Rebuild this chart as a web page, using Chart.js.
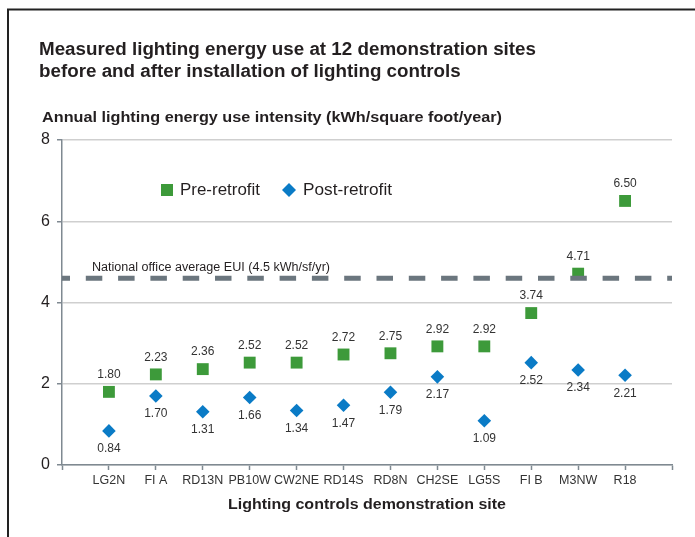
<!DOCTYPE html>
<html>
<head>
<meta charset="utf-8">
<script src="https://cdn.jsdelivr.net/npm/chart.js@4.4.1/dist/chart.umd.min.js"></script>
<style>
  html, body { margin: 0; padding: 0; background: #ffffff; overflow: hidden; }
  #wrap { width: 695px; height: 537px; }
</style>
</head>
<body>
<div id="wrap"><canvas id="chart" width="695" height="537"></canvas></div>
<script>
// sites and measured values (kWh/sf/yr)
const sites = ["LG2N", "FI A", "RD13N", "PB10W", "CW2NE", "RD14S", "RD8N", "CH2SE", "LG5S", "FI B", "M3NW", "R18"];
const preRetrofit = [1.80, 2.23, 2.36, 2.52, 2.52, 2.72, 2.75, 2.92, 2.92, 3.74, 4.71, 6.50];
const postRetrofit = [0.84, 1.70, 1.31, 1.66, 1.34, 1.47, 1.79, 2.17, 1.09, 2.52, 2.34, 2.21];
const yTicks = [0, 2, 4, 6, 8];
const nationalAverage = 4.6; // where the dashed reference line sits in the original
const nationalLabel = "National office average EUI (4.5 kWh/sf/yr)";

const GREEN = "#3d9a3a";
const BLUE = "#0a7bc6";
const TEXT = "#231f20";
const AXIS = "#7f8991";
const FONT = "'Liberation Sans', Arial, sans-serif";

function toPoints(values) {
  return values.map((v, i) => ({ x: i + 1, y: v }));
}

// stretch/squeeze a line of text so it spans the given width
function fitText(ctx, text, x, y, width) {
  const s = width / ctx.measureText(text).width;
  ctx.save();
  ctx.translate(x, y);
  ctx.scale(s, 1);
  ctx.fillText(text, 0, 0);
  ctx.restore();
}

// draws titles, frame, legend and value labels
const decorations = {
  id: "decorations",
  afterDraw(chart) {
    const ctx = chart.ctx;
    const area = chart.chartArea;
    ctx.save();

    // frame (left + top rule)
    ctx.strokeStyle = "#222222";
    ctx.lineWidth = 2;
    ctx.beginPath();
    ctx.moveTo(8, 537);
    ctx.lineTo(8, 9.5);
    ctx.lineTo(695, 9.5);
    ctx.stroke();

    ctx.fillStyle = TEXT;
    ctx.textAlign = "left";
    ctx.textBaseline = "alphabetic";

    // main title, squeezed to look condensed
    ctx.font = "bold 17.5px " + FONT;
    const line1 = "Measured lighting energy use at 12 demonstration sites";
    const line2 = "before and after installation of lighting controls";
    const sx = 497 / ctx.measureText(line1).width;
    ctx.save();
    ctx.translate(39, 0);
    ctx.scale(sx, 1);
    ctx.fillText(line1, 0, 55);
    ctx.fillText(line2, 0, 77);
    ctx.restore();

    // y-axis title, horizontal above the axis
    ctx.font = "bold 14.5px " + FONT;
    fitText(ctx, "Annual lighting energy use intensity (kWh/square foot/year)", 42, 122, 460);

    // x-axis title
    ctx.font = "bold 15.5px " + FONT;
    ctx.textBaseline = "middle";
    const xTitle = "Lighting controls demonstration site";
    fitText(ctx, xTitle, (area.left + area.right) / 2 - 139, 505, 278);

    // reference line label
    const yRef = chart.scales.y.getPixelForValue(nationalAverage);
    ctx.font = "12.5px " + FONT;
    fitText(ctx, nationalLabel, 92, yRef - 11, 238);

    // legend
    ctx.font = "17px " + FONT;
    ctx.fillStyle = GREEN;
    ctx.fillRect(161, 184, 12, 12);
    ctx.fillStyle = TEXT;
    fitText(ctx, "Pre-retrofit", 180, 190, 80);
    ctx.fillStyle = BLUE;
    ctx.beginPath();
    ctx.moveTo(289, 183);
    ctx.lineTo(296, 190);
    ctx.lineTo(289, 197);
    ctx.lineTo(282, 190);
    ctx.closePath();
    ctx.fill();
    ctx.fillStyle = TEXT;
    fitText(ctx, "Post-retrofit", 303, 190, 89);

    // value labels
    ctx.font = "12px " + FONT;
    ctx.textAlign = "center";
    ctx.fillStyle = "#333333";
    const preMeta = chart.getDatasetMeta(1);
    preMeta.data.forEach((pt, i) => {
      ctx.fillText(preRetrofit[i].toFixed(2), pt.x, pt.y - 17);
    });
    const postMeta = chart.getDatasetMeta(2);
    postMeta.data.forEach((pt, i) => {
      ctx.fillText(postRetrofit[i].toFixed(2), pt.x, pt.y + 18);
    });

    ctx.restore();
  }
};

new Chart(document.getElementById("chart").getContext("2d"), {
  type: "scatter",
  data: {
    datasets: [
      {
        type: "line",
        label: "National average",
        data: [{ x: 0, y: nationalAverage }, { x: sites.length + 1, y: nationalAverage }],
        borderColor: "#6b767e",
        borderWidth: 5,
        borderDash: [16.5, 15.8],
        borderDashOffset: 8.5,
        pointRadius: 0,
        fill: false,
        order: 0
      },
      {
        label: "Pre-retrofit",
        data: toPoints(preRetrofit),
        pointStyle: "rect",
        pointRadius: 8.4,
        backgroundColor: GREEN,
        borderColor: GREEN,
        pointBorderWidth: 0,
        order: 1
      },
      {
        label: "Post-retrofit",
        data: toPoints(postRetrofit),
        pointStyle: "rectRot",
        pointRadius: 6.8,
        backgroundColor: BLUE,
        borderColor: BLUE,
        pointBorderWidth: 0,
        order: 1
      }
    ]
  },
  options: {
    responsive: false,
    animation: false,
    events: [],
    layout: { padding: { left: 38, right: 23, top: 140, bottom: 0 } },
    plugins: {
      legend: { display: false },
      tooltip: { enabled: false }
    },
    scales: {
      x: {
        type: "linear",
        min: 0,
        max: sites.length + 1,
        afterFit: (scale) => { scale.height = 72; },
        afterBuildTicks: (scale) => {
          scale.ticks = Array.from({ length: sites.length + 2 }, (_, i) => ({ value: i }));
        },
        ticks: {
          autoSkip: false,
          maxRotation: 0,
          padding: 3,
          color: "#333333",
          font: { family: FONT, size: 12.5 },
          callback: (v) => sites[v - 1] || ""
        },
        grid: { drawOnChartArea: false, drawTicks: true, tickLength: 5, tickColor: AXIS, tickWidth: 1.5 },
        border: { color: AXIS, width: 1.5 }
      },
      y: {
        min: 0,
        max: 8,
        afterFit: (scale) => { scale.width = 24; },
        afterBuildTicks: (scale) => {
          scale.ticks = yTicks.map((v) => ({ value: v }));
        },
        ticks: {
          padding: 7,
          color: TEXT,
          font: { family: FONT, size: 16 }
        },
        grid: { color: "#cfcfcf", lineWidth: 1.5, tickLength: 5, tickColor: AXIS, tickWidth: 1.5 },
        border: { color: AXIS, width: 1.5 }
      }
    }
  },
  plugins: [decorations]
});
</script>
</body>
</html>
